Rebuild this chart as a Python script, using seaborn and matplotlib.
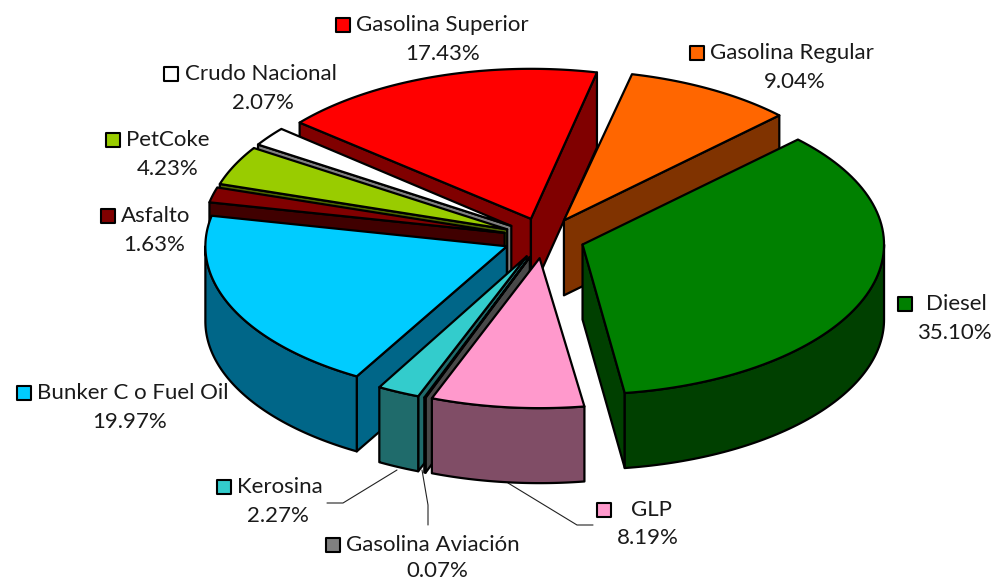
import numpy as np
import matplotlib
matplotlib.use("Agg")
import matplotlib.pyplot as plt
import seaborn as sns

# --- data ---
categories = ["Gasolina Superior", "Gasolina Regular", "Diesel", "GLP", "Gasolina Aviación",
              "Kerosina", "Bunker C o Fuel Oil", "Asfalto", "PetCoke", "Crudo Nacional"]
shares = [17.43, 9.04, 35.10, 8.19, 0.07, 2.27, 19.97, 1.63, 4.23, 2.07]
top_colors = ["#FF0000", "#FF6600", "#008000", "#FF99CC", "#808080",
              "#33CCCC", "#00CCFF", "#800000", "#99CC00", "#FFFFFF"]
wall_colors = ["#800000", "#803300", "#004000", "#804D66", "#484848",
               "#1F6B6B", "#006688", "#400000", "#4D6600", "#808080"]

# --- layout ---
draw_order = [0, 1, 9, 8, 7, 6, 5, 4, 3, 2]
angle_nudge = [-0.4, 0, 0, -0.5, -1.2, -0.6, 0, 0, 0, 0]
label_key_x = [343, 697, 905, 604, 333, 224, 24, 108, 113, 171]
label_y = [25, 53, 304, 510, 545, 487, 393, 216, 140, 74]
label_text_x = [356, 710, 926, 631, 346, 237, 37, 121, 126, 185]
pct_center_x = [443, 795, 954, 648, 437, 278, 130, 154, 168, 263]
pct_y = [54, 82, 333, 538, 571, 516, 422, 245, 169, 103]
leaders = [([327, 343, 397], [503, 503, 470]),
           ([428, 428, 422], [525, 505, 470]),
           ([593, 577, 508], [525, 525, 483])]
CX, CY, RX, RY, DEPTH, EXPLODE, START = 544, 238, 301.5, 150, 75, 0.135, -49.7

sns.set_theme(style="white")
plt.rcParams["font.family"] = ["Lato", "DejaVu Sans"]
fig, ax = plt.subplots(figsize=(9.94, 5.82), dpi=100)
ax.set_position([0, 0, 1, 1])
ax.set_xlim(0, 994)
ax.set_ylim(582, 0)
ax.axis("off")

palette_top = sns.color_palette(top_colors)
palette_wall = sns.color_palette(wall_colors)

sweeps = np.array(shares) / sum(shares) * 360
ends = START + np.cumsum(sweeps) + np.array(angle_nudge)
starts = ends - sweeps


def rim(theta, tip):
    t = np.radians(theta)
    return tip[0] + RX * np.sin(t), tip[1] - RY * np.cos(t)


def face(xs, ys, color, z):
    ax.fill(xs, ys, facecolor=color, edgecolor="black", linewidth=1.6,
            joinstyle="round", zorder=z)


z = 2
for i in draw_order:
    a0, a1 = starts[i], ends[i]
    mid = np.radians((a0 + a1) / 2)
    tip = (CX + EXPLODE * RX * np.sin(mid), CY - EXPLODE * RY * np.cos(mid))
    # radial walls facing the viewer
    for a, visible in ((a0, np.sin(np.radians(a0)) < 0), (a1, np.sin(np.radians(a1)) > 0)):
        if visible:
            ex, ey = rim(a, tip)
            face([tip[0], ex, ex, tip[0]], [tip[1], ey, ey + DEPTH, tip[1] + DEPTH],
                 palette_wall[i], z)
            z += 1
    # outer curved wall (front half only)
    lo, hi = max(a0, 90), min(a1, 270)
    if lo < hi:
        th = np.linspace(lo, hi, 80)
        ax_x, ax_y = rim(th, tip)
        face(np.r_[ax_x, ax_x[::-1]], np.r_[ax_y, ax_y[::-1] + DEPTH], palette_wall[i], z)
        z += 1
    # top face
    th = np.linspace(a0, a1, 80)
    rx_, ry_ = rim(th, tip)
    face(np.r_[tip[0], rx_], np.r_[tip[1], ry_], palette_top[i], z)
    z += 1

for xs, ys in leaders:
    ax.plot(xs, ys, color="#222222", linewidth=0.8, zorder=1)

TEXT = "#1a1a1a"
for i, name in enumerate(categories):
    ax.scatter([label_key_x[i]], [label_y[i]], marker="s", s=95, color=palette_top[i],
               edgecolor="black", linewidth=1.5, zorder=50)
    ax.text(label_text_x[i], label_y[i], name, ha="left", va="center", fontsize=16,
            color=TEXT, zorder=50)
    ax.text(pct_center_x[i], pct_y[i], f"{shares[i]:.2f}%", ha="center", va="center",
            fontsize=16, color=TEXT, zorder=50)

fig.savefig("out.png", dpi=100, facecolor="white")
